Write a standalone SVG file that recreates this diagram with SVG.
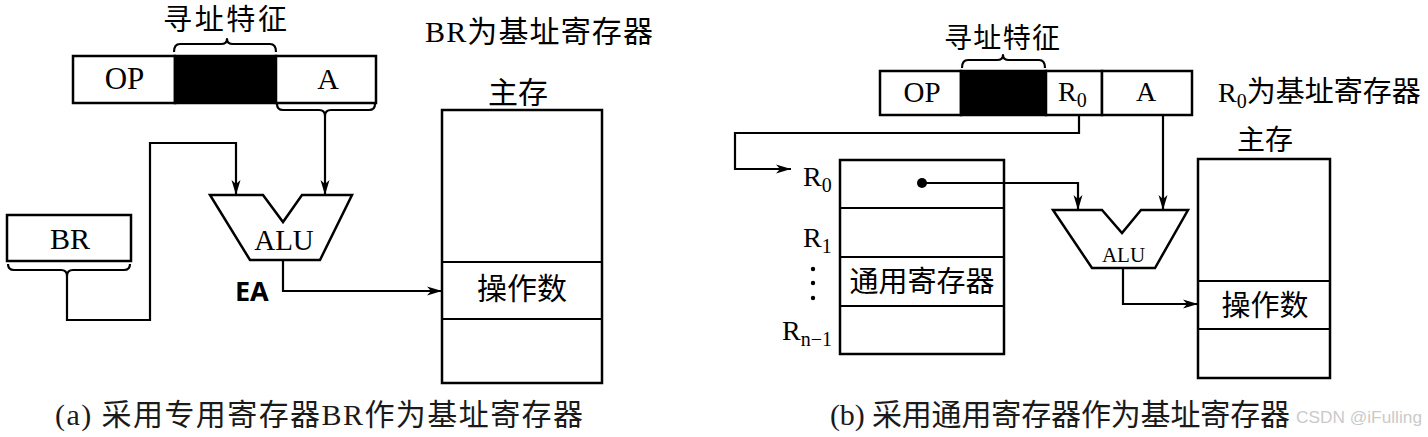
<svg xmlns="http://www.w3.org/2000/svg" width="1428" height="437" viewBox="0 0 1428 437">
<style>
.box{fill:#fff;stroke:#000;stroke-width:2.5}
.blk{fill:#000;stroke:#000;stroke-width:2.5}
.ln{fill:none;stroke:#000;stroke-width:2.2}
.br{fill:none;stroke:#000;stroke-width:2.2;stroke-linejoin:round}
.t{font-family:"Liberation Serif","Noto Sans CJK SC",serif;fill:#000}
.c{font-family:"Liberation Serif","Noto Sans CJK SC",serif;fill:#1a1a1a}
.ea{font-family:"Noto Sans","Liberation Sans",sans-serif;font-weight:bold;fill:#000}
.wm{font-family:"Liberation Sans","Noto Sans",sans-serif;fill:#bdbdbd;opacity:0.8}
</style>
<defs>
<marker id="arr" markerUnits="userSpaceOnUse" markerWidth="16" markerHeight="10" refX="15" refY="5" orient="auto">
<path d="M0,0.5 L15,5 L0,9.5 L4,5 Z" fill="#000"/>
</marker>
</defs>
<rect width="1428" height="437" fill="#fff"/>

<!-- Panel (a) -->
<g id="a-feature-label">
<text class="t" x="225" y="30" font-size="29" text-anchor="middle" textLength="124">寻址特征</text>
<path class="br" d="M174,52 Q174,44 180,44 L221,44 Q227,44 227,39 Q227,44 233,44 L270,44 Q276,44 276,52"/>
</g>
<g id="a-instruction">
<rect class="box" x="73" y="56" width="102" height="47"/>
<rect class="blk" x="175" y="56" width="101" height="47"/>
<rect class="box" x="276" y="56" width="100" height="47"/>
<text class="t" x="124.5" y="89" font-size="31" text-anchor="middle">OP</text>
<text class="t" x="328" y="89" font-size="30" text-anchor="middle">A</text>
<path class="br" d="M277,104 Q277,110 283,110 L319,110 Q325,110 325,116 Q325,110 331,110 L369,110 Q375,110 375,104"/>
</g>
<g id="a-title">
<text class="t" x="425" y="42" font-size="30" textLength="228">BR为基址寄存器</text>
</g>
<g id="a-br">
<rect class="box" x="7" y="215" width="124" height="46"/>
<text class="t" x="70" y="249" font-size="30" text-anchor="middle">BR</text>
<path class="br" d="M8,264 Q8,270 14,270 L61,270 Q67,270 67,276 Q67,270 73,270 L124,270 Q130,270 130,264"/>
</g>
<g id="a-alu">
<polygon class="box" points="210,195 263,195 283,222 302,195 352,195 320,260 250,260"/>
<text class="t" x="284" y="250" font-size="29" text-anchor="middle">ALU</text>
</g>
<g id="a-ea">
<text class="ea" x="235" y="301" font-size="27">EA</text>
</g>
<g id="a-memory">
<text class="t" x="518" y="103" font-size="30" text-anchor="middle">主存</text>
<rect class="box" x="442" y="110" width="160" height="273"/>
<line class="ln" x1="442" y1="262" x2="602" y2="262" stroke-width="2.5"/>
<line class="ln" x1="442" y1="319" x2="602" y2="319" stroke-width="2.5"/>
<text class="t" x="522" y="299" font-size="30" text-anchor="middle">操作数</text>
</g>
<g id="a-caption">
<text class="c" x="55" y="425" font-size="30" textLength="528">(a) 采用专用寄存器BR作为基址寄存器</text>
</g>

<!-- Panel (b) -->
<g id="b-feature-label">
<text class="t" x="1002" y="48" font-size="28" text-anchor="middle" textLength="116">寻址特征</text>
<path class="br" d="M962,68 Q962,60 968,60 L997,60 Q1003,60 1003,55 Q1003,60 1009,60 L1039,60 Q1045,60 1045,68"/>
</g>
<g id="b-instruction">
<rect class="box" x="880" y="71" width="81" height="44"/>
<rect class="blk" x="961" y="71" width="85" height="44"/>
<rect class="box" x="1046" y="71" width="56" height="44"/>
<rect class="box" x="1102" y="71" width="90" height="44"/>
<text class="t" x="922" y="102" font-size="29" text-anchor="middle">OP</text>
<text class="t" x="1058" y="101" font-size="28">R<tspan font-size="20" dy="6">0</tspan></text>
<text class="t" x="1146" y="101" font-size="28" text-anchor="middle">A</text>
</g>
<g id="b-title">
<text class="t" x="1218" y="102" font-size="28">R<tspan font-size="20" dy="6">0</tspan><tspan dy="-6" font-size="29">为基址寄存器</tspan></text>
</g>
<g id="b-registers">
<rect class="box" x="840" y="160" width="164" height="194"/>
<line class="ln" x1="840" y1="208" x2="1004" y2="208" stroke-width="2.5"/>
<line class="ln" x1="840" y1="257" x2="1004" y2="257" stroke-width="2.5"/>
<line class="ln" x1="840" y1="306" x2="1004" y2="306" stroke-width="2.5"/>
<text class="t" x="922" y="292" font-size="29" text-anchor="middle">通用寄存器</text>
<text class="t" x="803" y="186" font-size="28">R<tspan font-size="20" dy="6">0</tspan></text>
<text class="t" x="803" y="247" font-size="28">R<tspan font-size="20" dy="6">1</tspan></text>
<circle cx="813" cy="269" r="2.2" fill="#000"/>
<circle cx="813" cy="283" r="2.2" fill="#000"/>
<circle cx="813" cy="298" r="2.2" fill="#000"/>
<text class="t" x="782" y="340" font-size="28">R<tspan font-size="20" dy="6">n−1</tspan></text>
<circle cx="922" cy="183" r="5" fill="#000"/>
</g>
<g id="b-alu">
<polygon class="box" points="1053,210 1102,210 1122,233 1141,210 1188,210 1155,268 1092,268"/>
<text class="t" x="1123.5" y="262" font-size="21" text-anchor="middle">ALU</text>
</g>
<g id="b-memory">
<text class="t" x="1265" y="150" font-size="28" text-anchor="middle">主存</text>
<rect class="box" x="1198" y="159" width="132" height="219"/>
<line class="ln" x1="1198" y1="281" x2="1330" y2="281" stroke-width="2.5"/>
<line class="ln" x1="1198" y1="329" x2="1330" y2="329" stroke-width="2.5"/>
<text class="t" x="1265" y="316" font-size="29" text-anchor="middle">操作数</text>
</g>
<g id="b-caption">
<text class="c" x="830" y="425" font-size="30" textLength="460">(b) 采用通用寄存器作为基址寄存器</text>
</g>
<g id="watermark">
<text class="wm" x="1296" y="423" font-size="17" textLength="126" lengthAdjust="spacingAndGlyphs">CSDN @iFulling</text>
</g>

<!-- Connectors -->
<g id="connectors">
<path class="ln" d="M325,116 L325,195" marker-end="url(#arr)"/>
<path class="ln" d="M67,276 L67,320 L150,320 L150,143 L236,143 L236,195" marker-end="url(#arr)"/>
<path class="ln" d="M283,260 L283,291 L442,291" marker-end="url(#arr)"/>
<path class="ln" d="M1079,115 L1079,133 L735,133 L735,169 L791,169" marker-end="url(#arr)"/>
<path class="ln" d="M922,183 L1078,183 L1078,210" marker-end="url(#arr)"/>
<path class="ln" d="M1163,115 L1163,210" marker-end="url(#arr)"/>
<path class="ln" d="M1123,268 L1123,304 L1198,304" marker-end="url(#arr)"/>
</g>
</svg>
